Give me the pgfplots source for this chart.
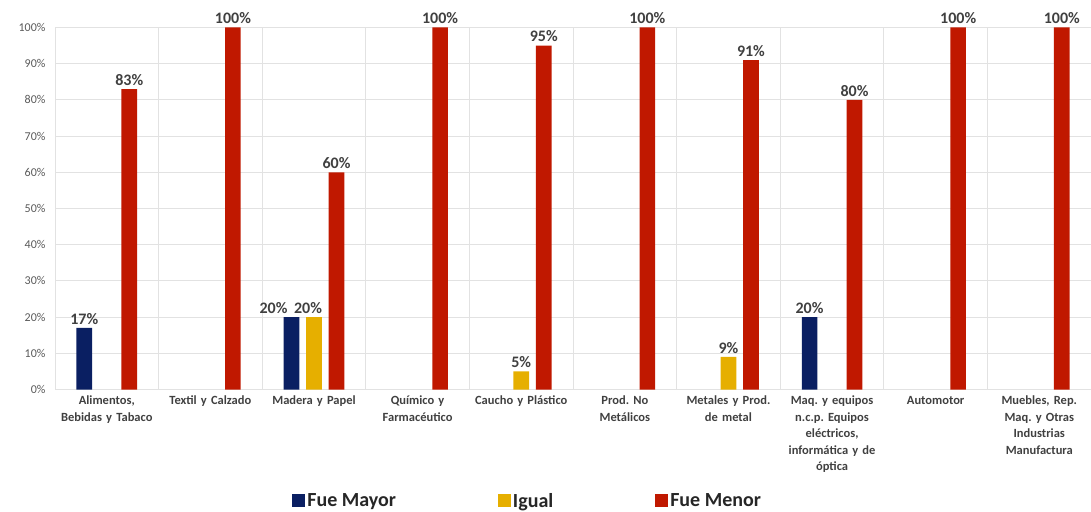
\documentclass[border=0pt]{standalone}
\usepackage{fontspec}
\setmainfont{Carlito}
\usepackage{pgfplots}
\pgfplotsset{compat=1.18}
\definecolor{cMayor}{HTML}{0A1F62}
\definecolor{cIgual}{HTML}{E6AF00}
\definecolor{cMenor}{HTML}{C01800}
\definecolor{txt}{HTML}{404040}
\definecolor{tick}{HTML}{595959}
\definecolor{grd}{HTML}{E2E2E2}
\pgfplotsset{
  sqbar/.style={ybar, bar width=0.151, draw=none,
    legend image code/.code={\fill[##1] (0pt,-6.5pt) rectangle (13pt,6.5pt);}},
}
\frenchspacing
\begin{document}
\begin{tikzpicture}
\useasboundingbox (-55pt,-121.5pt) rectangle (1036pt,389.5pt);
\begin{axis}[
  at={(0pt,0pt)}, anchor=south west,
  scale only axis, width=1036pt, height=362pt,
  xmin=-0.5, xmax=9.5, ymin=0, ymax=100,
  clip=false,
  /pgf/number format/assume math mode=true,
  xtick={0,...,9},
  xticklabels={{Alimentos,\\Bebidas y Tabaco},{Textil y Calzado},{Madera y Papel},
    {Químico y\\Farmacéutico},{Caucho y Plástico},{Prod. No\\Metálicos},
    {Metales y Prod.\\de metal},
    {Maq. y equipos\\n.c.p. Equipos\\eléctricos,\\informática y de\\óptica},
    {Automotor},{Muebles, Rep.\\Maq. y Otras\\Industrias\\Manufactura}},
  xticklabel style={font=\bfseries\fontsize{12.5}{16.5}\selectfont, text=txt,
    align=center, text width=100pt, anchor=north, yshift=-3pt},
  minor xtick={0.5,1.5,...,8.5},
  xminorgrids, ymajorgrids,
  ytick={0,10,...,100},
  yticklabel={\pgfmathprintnumber{\tick}\%},
  yticklabel style={font=\fontsize{12}{14}\selectfont, text=tick, xshift=-6pt},
  major tick length=0pt, minor tick length=0pt,
  axis line style={grd, line width=0.8pt},
  grid style={grd, line width=0.8pt},
  minor grid style={grd, line width=0.8pt},
  nodes near coords={\pgfmathprintnumber{\pgfplotspointmeta}\%},
  every node near coord/.append style={font=\bfseries\fontsize{16}{18}\selectfont, text=txt},
  visualization depends on={rawx \as \xv},
  legend columns=3,
  legend style={at={(0.226,-0.308)}, anchor=west, draw=none, fill=none,
    font=\bfseries\fontsize{20}{22}\selectfont, text=black!85,
    /tikz/every even column/.append style={column sep=100pt}},
]
\addplot[sqbar, bar shift=-0.217, fill=cMayor,
  every node near coord/.append style={xshift={ifthenelse(\xv==2,-40.5,-22.5)}}]
  coordinates {(0,17) (2,20) (7,20)};
\addlegendentry{Fue Mayor}
\addplot[sqbar, bar shift=0, fill=cIgual,
  every node near coord/.append style={xshift={ifthenelse(\xv==2,-6,0)}}]
  coordinates {(2,20) (4,5) (6,9)};
\addlegendentry{Igual}
\addplot[sqbar, bar shift=0.217, fill=cMenor,
  every node near coord/.append style={xshift=22.5pt}]
  coordinates {(0,83) (1,100) (2,60) (3,100) (4,95) (5,100) (6,91) (7,80) (8,100) (9,100)};
\addlegendentry{Fue Menor}
\end{axis}
\end{tikzpicture}
\end{document}
